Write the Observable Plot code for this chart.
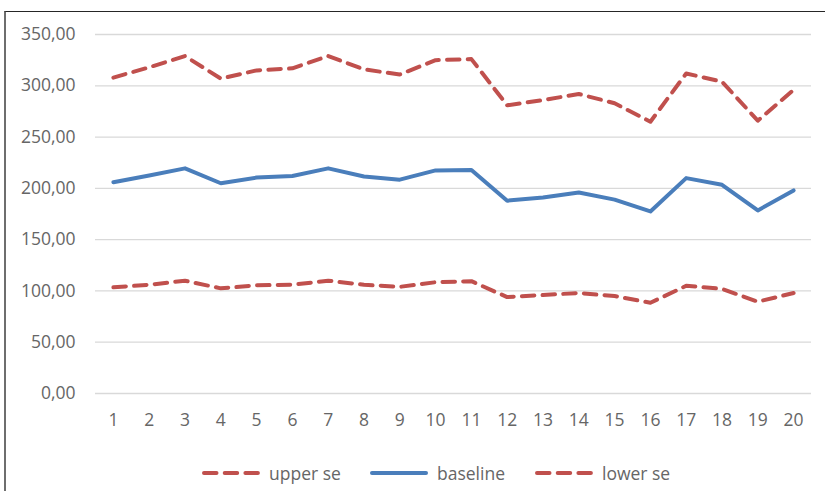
<!DOCTYPE html>
<html>
<head>
<meta charset="utf-8">
<script src="https://cdn.jsdelivr.net/npm/d3@7"></script>
<script src="https://cdn.jsdelivr.net/npm/@observablehq/plot@0.6"></script>
<style>
  html, body { margin: 0; padding: 0; background: #fff; width: 825px; height: 491px; overflow: hidden; }
  #frame { position: absolute; left: 4px; top: 11px; width: 1000px; height: 1000px;
           border-left: 2px solid #6e6e6e; border-top: 1px solid #262626; box-sizing: border-box; }
  #chart { position: absolute; left: 0; top: 0; }
  #legend { position: absolute; left: 0; top: 460px; width: 825px; height: 26px;
            font-family: "Open Sans", sans-serif; font-size: 17.5px; color: #666; }
  .item { position: absolute; top: 0; height: 26px; line-height: 26px; white-space: nowrap; }
  .item svg { position: absolute; top: 0; }
</style>
</head>
<body>
<div id="frame"></div>
<div id="chart"></div>
<div id="legend"></div>
<script>
const categories = [1, 2, 3, 4, 5, 6, 7, 8, 9, 10, 11, 12, 13, 14, 15, 16, 17, 18, 19, 20];
const upperSe  = [308, 318, 329, 307, 315, 317, 329, 316, 311, 325, 326, 281, 286, 292, 283, 265, 312, 304, 266, 296];
const baseline = [206, 212.5, 219.5, 205, 210.5, 212, 219.5, 211.5, 208.5, 217.5, 218, 188, 191, 196, 189, 177.5, 210, 203.5, 178.5, 198];
const lowerSe  = [103.5, 106, 110, 102.5, 105.5, 106, 110, 106, 104, 108.5, 109.5, 94, 96, 98, 95, 88.5, 105, 102, 89.5, 98];
const seriesNames = ["upper se", "baseline", "lower se"];
const yTicks = [0, 50, 100, 150, 200, 250, 300, 350];

const red = "#C0504D", blue = "#4A7EBB";
const dash = "12.5,8.2";
const seriesStyle = {
  "upper se": {stroke: red, dash: dash},
  "baseline": {stroke: blue, dash: null},
  "lower se": {stroke: red, dash: dash}
};
const seriesValues = {"upper se": upperSe, "baseline": baseline, "lower se": lowerSe};
const rows = s => categories.map((c, i) => ({cat: c, value: seriesValues[s][i], series: s}));
const fmt = d => d.toFixed(2).replace(".", ",");

const lineMarks = seriesNames.map(s => Plot.line(rows(s), {
  x: "cat", y: "value",
  stroke: seriesStyle[s].stroke,
  strokeWidth: 4,
  strokeDasharray: seriesStyle[s].dash,
  strokeLinecap: "round",
  strokeLinejoin: "round"
}));

const chart = Plot.plot({
  width: 825,
  height: 445,
  marginTop: 34,
  marginBottom: 52,
  marginLeft: 95,
  marginRight: 14,
  style: {fontFamily: "Open Sans, sans-serif", fontSize: "17.5px", color: "#666", background: "transparent"},
  x: {type: "point", domain: categories, padding: 0.5, align: 0.5, round: false},
  y: {domain: [0, 350]},
  marks: [
    Plot.gridY(yTicks, {stroke: "#d9d9d9", strokeOpacity: 1, strokeWidth: 1.3}),
    Plot.axisY(yTicks, {tickSize: 0, tickPadding: 20, tickFormat: fmt, label: null, fill: "#666"}),
    Plot.axisX(categories, {tickSize: 0, tickPadding: 20, label: null, fill: "#666"}),
    ...lineMarks
  ]
});
document.getElementById("chart").appendChild(chart);

// legend
const legendPos = {"upper se": 200, "baseline": 368, "lower se": 533};
const legendEl = document.getElementById("legend");
seriesNames.forEach(s => {
  const item = document.createElement("div");
  item.className = "item";
  item.style.left = legendPos[s] + "px";
  const st = seriesStyle[s];
  item.innerHTML =
    `<svg width="62" height="26"><line x1="4" x2="58" y1="13" y2="13" stroke="${st.stroke}" stroke-width="4" stroke-linecap="round" ${st.dash ? `stroke-dasharray="${st.dash}"` : ""}/></svg>` +
    `<span style="position:absolute;left:69px">${s}</span>`;
  legendEl.appendChild(item);
});
</script>
</body>
</html>
